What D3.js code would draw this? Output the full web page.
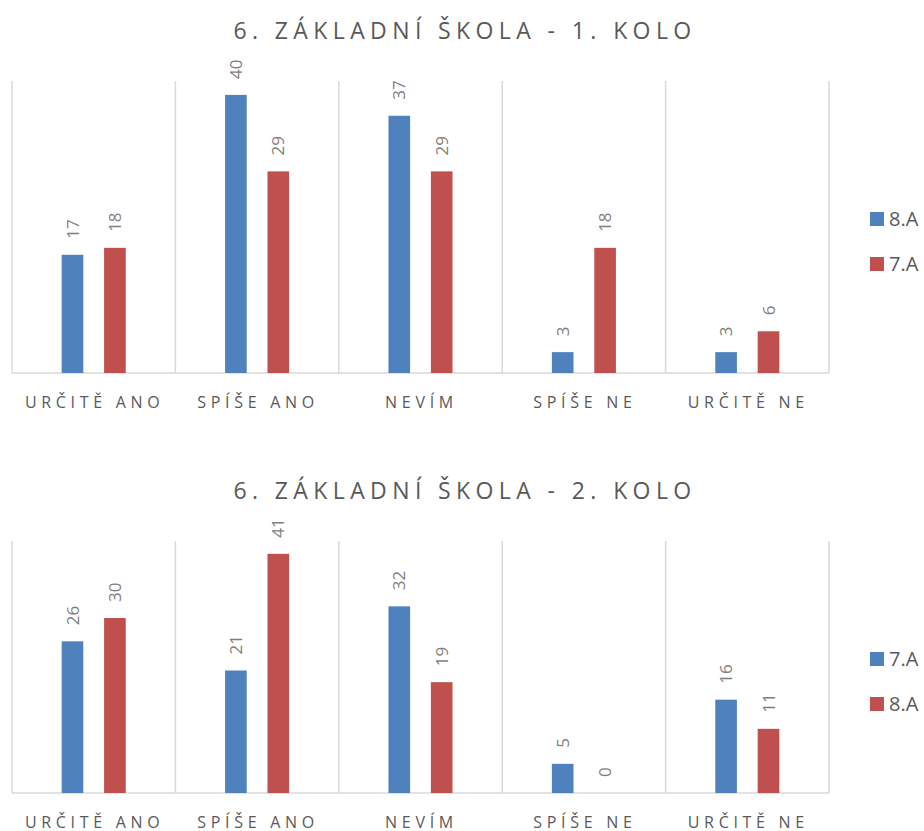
<!DOCTYPE html>
<html><head><meta charset="utf-8">
<script src="https://cdn.jsdelivr.net/npm/d3@7"></script>
<style>
body{margin:0;background:#fff;}
text{font-family:"Open Sans",sans-serif;fill:#595959;}
</style></head>
<body><svg id="c" width="924" height="831"></svg>
<script>
const categories = ["URČITĚ ANO","SPÍŠE ANO","NEVÍM","SPÍŠE NE","URČITĚ NE"];
const titles = ["6. ZÁKLADNÍ ŠKOLA - 1. KOLO","6. ZÁKLADNÍ ŠKOLA - 2. KOLO"];
const series1 = ["8.A","7.A"];
const values1A = [17,40,37,3,3];   // 8.A
const values1B = [18,29,29,18,6];  // 7.A
const series2 = ["7.A","8.A"];
const values2A = [26,21,32,5,16];  // 7.A
const values2B = [30,41,19,0,11];  // 8.A
const colors = ["#4F81BD","#C0504D"];

const svg = d3.select("#c");
const panels = [
  {title:titles[0], series:series1, data:[values1A,values1B], top:81, bottom:373, max:42, titleY:39, legY:219},
  {title:titles[1], series:series2, data:[values2A,values2B], top:541, bottom:793, max:43.2, titleY:499, legY:659}
];
const left=12, right=829;

panels.forEach(p=>{
  const g = svg.append("g");
  const x = d3.scaleBand().domain(categories).range([left,right]).padding(0);
  const bw = x.bandwidth();
  const xs = d3.scaleBand().domain(p.series).range([bw*0.304,bw*0.696]).paddingInner(0.49).paddingOuter(0);
  const y = d3.scaleLinear().domain([0,p.max]).range([p.bottom,p.top]);

  g.append("text").attr("x",465).attr("y",p.titleY).attr("text-anchor","middle")
    .style("font-size","23px").style("letter-spacing","5.4px").text(p.title);

  const seps = categories.map(c=>x(c)).concat([right]);
  g.selectAll(".sep").data(seps).join("line")
    .attr("x1",d=>d).attr("x2",d=>d).attr("y1",p.top).attr("y2",p.bottom)
    .attr("stroke","#D9D9D9").attr("stroke-width",1.5);
  g.append("line").attr("x1",left).attr("x2",right).attr("y1",p.bottom).attr("y2",p.bottom)
    .attr("stroke","#D9D9D9").attr("stroke-width",1.5);

  const recs = [];
  p.series.forEach((s,i)=>categories.forEach((c,j)=>recs.push({s,i,c,v:p.data[i][j]})));
  g.selectAll(".bar").data(recs).join("rect")
    .attr("x",d=>x(d.c)+xs(d.s)).attr("width",xs.bandwidth())
    .attr("y",d=>y(d.v)).attr("height",d=>p.bottom-y(d.v))
    .attr("fill",d=>colors[d.i]);
  g.selectAll(".lbl").data(recs).join("text")
    .attr("transform",d=>`translate(${x(d.c)+xs(d.s)+xs.bandwidth()/2},${y(d.v)-16}) rotate(-90)`)
    .attr("dy","0.36em").style("font-size","17px").style("fill","#7F7F7F").text(d=>d.v);

  g.selectAll(".cat").data(categories).join("text")
    .attr("x",d=>x(d)+bw/2+1).attr("y",p.bottom+35).attr("text-anchor","middle")
    .style("font-size","16px").style("letter-spacing","4.7px").text(d=>d);

  p.series.forEach((s,i)=>{
    g.append("rect").attr("x",870).attr("y",p.legY-7+i*45).attr("width",14).attr("height",14).attr("fill",colors[i]);
    g.append("text").attr("x",889).attr("y",p.legY+i*45).attr("dy","0.36em").style("font-size","20px").text(s);
  });
});
</script></body></html>
